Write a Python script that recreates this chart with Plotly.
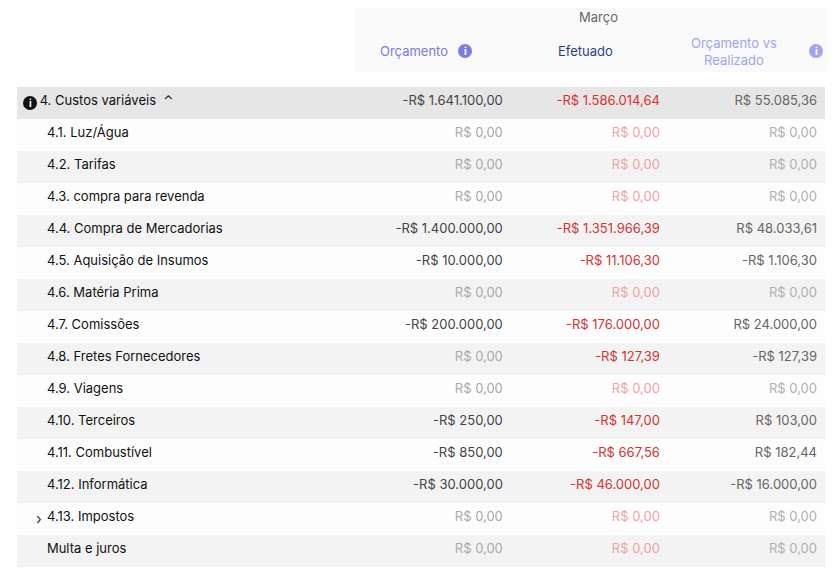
import plotly.graph_objects as go

# -- dados da tabela -- #
rotulos = ['4. Custos variáveis  ⌃', '4.1. Luz/Água', '4.2. Tarifas', '4.3. compra para revenda',
           '4.4. Compra de Mercadorias', '4.5. Aquisição de Insumos', '4.6. Matéria Prima',
           '4.7. Comissões', '4.8. Fretes Fornecedores', '4.9. Viagens', '4.10. Terceiros',
           '4.11. Combustível', '4.12. Informática', '4.13. Impostos', 'Multa e juros']
orcamento = ['-R$ 1.641.100,00', 'R$ 0,00', 'R$ 0,00', 'R$ 0,00', '-R$ 1.400.000,00', '-R$ 10.000,00',
             'R$ 0,00', '-R$ 200.000,00', 'R$ 0,00', 'R$ 0,00', '-R$ 250,00', '-R$ 850,00',
             '-R$ 30.000,00', 'R$ 0,00', 'R$ 0,00']
efetuado = ['-R$ 1.586.014,64', 'R$ 0,00', 'R$ 0,00', 'R$ 0,00', '-R$ 1.351.966,39', '-R$ 11.106,30',
            'R$ 0,00', '-R$ 176.000,00', '-R$ 127,39', 'R$ 0,00', '-R$ 147,00', '-R$ 667,56',
            '-R$ 46.000,00', 'R$ 0,00', 'R$ 0,00']
realizado = ['R$ 55.085,36', 'R$ 0,00', 'R$ 0,00', 'R$ 0,00', 'R$ 48.033,61', '-R$ 1.106,30',
             'R$ 0,00', 'R$ 24.000,00', '-R$ 127,39', 'R$ 0,00', 'R$ 103,00', 'R$ 182,44',
             '-R$ 16.000,00', 'R$ 0,00', 'R$ 0,00']

W, H = 828, 577      # a pagina tem 8px de margem
OFF = 8
NB = '\u00a0'


def px(x):
    return (x - OFF) / W


def py(y):
    return 1 - (y - OFF) / H


def cor(vals, forte, fraca):
    return [fraca if v == 'R$ 0,00' else forte for v in vals]


texto_rot = [NB * 4 + rotulos[0]] + [NB * 6 + r for r in rotulos[1:]]
fundo = ['#e6e6e6'] + ['#fdfdfd' if i % 2 == 0 else '#f3f3f3' for i in range(len(rotulos) - 1)]

fig = go.Figure(go.Table(
    domain=dict(x=[px(17), px(826)], y=[0, py(86)]),
    columnwidth=[343, 160, 160, 160],
    header=dict(values=['', '', '', ''], height=1, fill_color='rgba(0,0,0,0)',
                line_color='rgba(0,0,0,0)'),
    cells=dict(values=[texto_rot, orcamento, efetuado, realizado],
               align=['left', 'right', 'right', 'right'],
               height=32, line_color='rgba(0,0,0,0)',
               fill_color=[fundo] * 4,
               font=dict(family='Inter', size=13,
                         color=[['#111'] * len(rotulos),
                                cor(orcamento, '#444444', '#a8a8a8'),
                                cor(efetuado, '#d63333', '#f0a3a3'),
                                cor(realizado, '#666666', '#b0b0b0')]))))

# -- cabecalho -- #
fig.add_shape(type='rect', xref='paper', yref='paper', x0=px(355), x1=1, y0=py(72), y1=1,
              fillcolor='#fafafa', line_width=0, layer='below')
anot = [('Março', 598, 17, '#666666'), ('Orçamento', 414, 51, '#7b7be0'),
        ('Efetuado', 585, 51, '#2d3e8c'), ('Orçamento vs<br>Realizado', 734, 51, '#a3a3ee')]
for t, x, y, c in anot:
    fig.add_annotation(text=t, x=px(x), y=py(y), xref='paper', yref='paper', showarrow=False,
                       xanchor='center', yanchor='middle',
                       font=dict(family='Inter', size=13, color=c))
for x, y, c in [(465, 51, '#7b7be0'), (816, 51, '#a3a3ee'), (30, 103, '#111111')]:
    r = 7
    fig.add_shape(type='circle', xref='paper', yref='paper', x0=px(x - r), x1=px(x + r),
                  y0=py(y + r), y1=py(y - r), fillcolor=c, line_width=0)
    fig.add_annotation(text='<b>i</b>', x=px(x), y=py(y), xref='paper', yref='paper',
                       showarrow=False, xanchor='center', yanchor='middle',
                       font=dict(family='Inter', size=10, color='white'))
fig.add_annotation(text='›', x=px(39), y=py(518), xref='paper', yref='paper', showarrow=False,
                   xanchor='center', yanchor='middle',
                   font=dict(family='Inter', size=15, color='#333'))

fig.update_layout(width=W, height=H, margin=dict(l=0, r=0, t=0, b=0),
                  paper_bgcolor='white', plot_bgcolor='white')
fig.write_html('out.html')
